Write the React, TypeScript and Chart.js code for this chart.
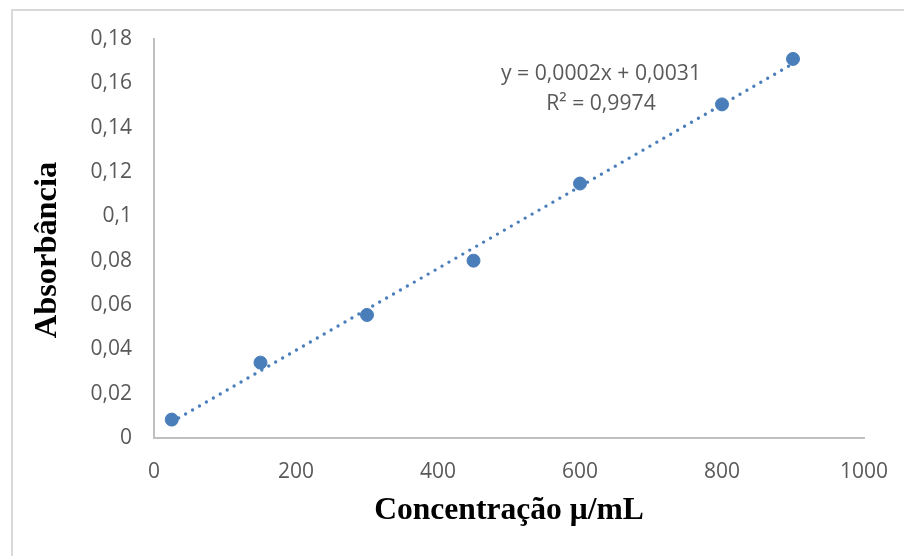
import React, { useEffect, useRef } from "react";
import { Chart, registerables } from "chart.js";

Chart.register(...registerables);

const concentrations = [25, 150, 300, 450, 600, 800, 900];
const absorbances = [0.0083, 0.034, 0.0555, 0.08, 0.1148, 0.1505, 0.171];
const xTickLabels = ["0", "200", "400", "600", "800", "1000"];
const yTickLabels = ["0", "0,02", "0,04", "0,06", "0,08", "0,1", "0,12", "0,14", "0,16", "0,18"];
const equationLines = ["y = 0,0002x + 0,0031", "R² = 0,9974"];
const xTitle = "Concentração μ/mL";
const yTitle = "Absorbância";

function linearFit(xs: number[], ys: number[]) {
  const n = xs.length;
  const mx = xs.reduce((a, b) => a + b, 0) / n;
  const my = ys.reduce((a, b) => a + b, 0) / n;
  let sxy = 0;
  let sxx = 0;
  for (let i = 0; i < n; i++) {
    sxy += (xs[i] - mx) * (ys[i] - my);
    sxx += (xs[i] - mx) * (xs[i] - mx);
  }
  const slope = sxy / sxx;
  return { slope, intercept: my - slope * mx };
}

export default function App() {
  const ref = useRef<HTMLCanvasElement | null>(null);

  useEffect(() => {
    if (!ref.current) return;
    const fit = linearFit(concentrations, absorbances);
    const xMin = Math.min(...concentrations);
    const xMax = Math.max(...concentrations);
    const trend = [xMin, xMax].map((x) => ({ x, y: fit.slope * x + fit.intercept }));
    const points = concentrations.map((x, i) => ({ x, y: absorbances[i] }));

    const decor = {
      id: "decor",
      beforeDraw(chart: any) {
        const ctx = chart.ctx;
        ctx.save();
        ctx.fillStyle = "#ffffff";
        ctx.fillRect(0, 0, chart.width, chart.height);
        ctx.strokeStyle = "#d9d9d9";
        ctx.lineWidth = 2;
        ctx.strokeRect(12, 10, 2000, 2000);
        ctx.restore();
      },
      afterDraw(chart: any) {
        const ctx = chart.ctx;
        ctx.save();
        ctx.fillStyle = "#000000";
        ctx.font = "bold 31.6px 'Liberation Serif', 'Times New Roman', serif";
        ctx.textAlign = "center";
        ctx.textBaseline = "middle";
        ctx.fillText(xTitle, 509, 511);
        ctx.save();
        ctx.translate(48, 250);
        ctx.rotate(-Math.PI / 2);
        ctx.font = "bold 32.4px 'Liberation Serif', 'Times New Roman', serif";
        ctx.fillText(yTitle, 0, 0);
        ctx.restore();
        ctx.fillStyle = "#595959";
        ctx.font = "21.2px 'Open Sans', sans-serif";
        ctx.fillText(equationLines[0], 601, 74);
        ctx.fillText(equationLines[1], 601, 104);
        ctx.restore();
      },
    };

    const chart = new Chart(ref.current, {
      type: "scatter",
      data: {
        datasets: [
          {
            type: "line",
            data: trend,
            borderColor: "#4a7ebb",
            borderWidth: 3.4,
            borderDash: [0, 8],
            borderCapStyle: "round",
            pointRadius: 0,
            fill: false,
            order: 2,
          } as any,
          {
            data: points,
            backgroundColor: "#4a7ebb",
            borderColor: "#4a7ebb",
            pointRadius: 6.5,
            pointHoverRadius: 6.5,
            order: 1,
          },
        ],
      },
      options: {
        animation: false,
        responsive: false,
        maintainAspectRatio: false,
        layout: { padding: { top: 39, right: 40, left: 0, bottom: 0 } },
        plugins: {
          legend: { display: false },
          tooltip: { enabled: false },
        },
        scales: {
          x: {
            type: "linear",
            min: 0,
            max: 1000,
            grid: { display: false, drawTicks: false },
            border: { display: true, color: "#bfbfbf", width: 2 },
            ticks: {
              stepSize: 200,
              color: "#595959",
              font: { family: "'Open Sans', sans-serif", size: 21 },
              padding: 21,
              maxRotation: 0,
              callback: (_v: any, i: number) => xTickLabels[i],
            },
            afterFit: (s: any) => {
              s.height = 118;
              s.paddingLeft = 0;
              s.paddingRight = 0;
            },
          },
          y: {
            type: "linear",
            min: 0,
            max: 0.18,
            grid: { display: false, drawTicks: false },
            border: { display: true, color: "#bfbfbf", width: 2 },
            ticks: {
              stepSize: 0.02,
              color: "#595959",
              font: { family: "'Open Sans', sans-serif", size: 21 },
              padding: 22,
              callback: (_v: any, i: number) => yTickLabels[i],
            },
            afterFit: (s: any) => {
              s.width = 154;
              s.paddingTop = 0;
              s.paddingBottom = 0;
            },
          },
        },
      },
      plugins: [decor],
    });
    return () => chart.destroy();
  }, []);

  return (
    <div style={{ position: "absolute", left: 0, top: 0, width: 904, height: 556 }}>
      <canvas ref={ref} width={904} height={556} style={{ width: 904, height: 556, display: "block" }} />
    </div>
  );
}
